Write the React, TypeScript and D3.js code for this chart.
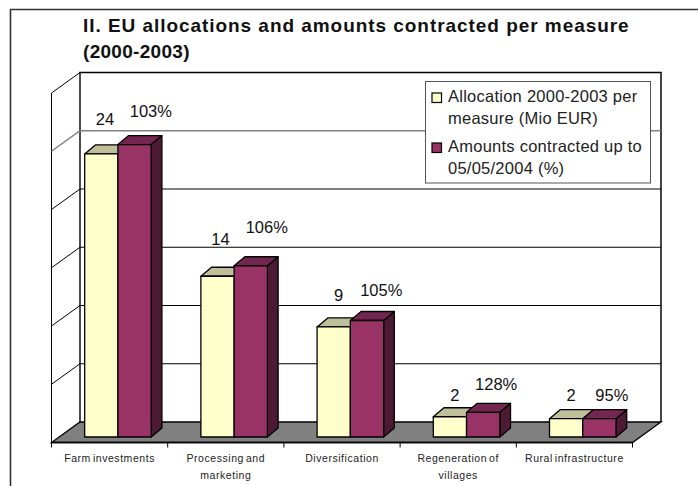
import React from 'react';
import { scaleBand, scaleLinear, format, range } from 'd3';

const categories = ['Farm investments', 'Processing and marketing', 'Diversification', 'Regeneration of villages', 'Rural infrastructure'];
const categoryLines = [['Farm investments'], ['Processing and', 'marketing'], ['Diversification'], ['Regeneration of', 'villages'], ['Rural infrastructure']];
const allocation = [24.3, 13.8, 9.45, 1.74, 1.57];
const contracted = [25.1, 14.7, 10.0, 2.12, 1.57];
const contractedPct = [103, 106, 105, 128, 95];
const yTicks = [0, 5, 10, 15, 20, 25, 30];

// labels were dragged by hand in the original, so they sit off the bars by uneven amounts
const allocLift = [29, 31, 25.7, 15.4, 17.4];
const allocShift = [3.7, 3, 5, 5, 5];
const contractedLift = [27.7, 32.7, 24.4, 22.6, 18];
const contractedShift = [16.3, 16, 14.3, 13, 12.4];

const FONT = '"Liberation Sans", Arial, sans-serif';
const wallX = 80, wallRight = 661, wallTop = 72.5, wallBottom = 422;
const floorDx = 28.5, floorDy = 20.5;
const depthX = 10.7, depthY = 9;
const frontDrop = 15; // bar fronts stand this far below the back wall's base
const frontShift = 8.35 - floorDx; // and this far right of the front floor edge

const yBack = scaleLinear().domain([0, 30]).range([wallBottom, wallTop]);
const yBar = (v: number) => yBack(v) + frontDrop;
const x0 = scaleBand<string>().domain(categories)
  .range([wallX + frontShift, wallRight + frontShift])
  .paddingInner(0.4275).paddingOuter(0.2137);
const x1 = scaleBand<string>().domain(['allocation', 'contracted']).range([0, x0.bandwidth()]);
const tickX = scaleLinear().domain([0, categories.length]).range([wallX - floorDx, wallRight - floorDx]);

function Bar({ x, w, top, bottom, front, topFace, side }: any) {
  return (
    <g stroke="#000" strokeWidth={1.3} strokeLinejoin="round">
      <polygon fill={side} points={`${x + w},${top} ${x + w + depthX},${top - depthY} ${x + w + depthX},${bottom - depthY} ${x + w},${bottom}`} />
      <polygon fill={topFace} points={`${x},${top} ${x + depthX},${top - depthY} ${x + w + depthX},${top - depthY} ${x + w},${top}`} />
      <rect x={x} y={top} width={w} height={bottom - top} fill={front} />
    </g>
  );
}

const App: React.FC = () => {
  const base = yBar(0);
  return (
    <svg width={698} height={486} style={{ position: 'absolute', left: 0, top: 0, fontFamily: FONT }}>
      <rect width={698} height={486} fill="#fff" />
      <path d="M10.5,486 V9.5 H698" fill="none" stroke="#333" strokeWidth={1.6} />

      <g fontWeight="bold" fontSize={19} fill="#111">
        <text x={83} y={32} letterSpacing={0.95}>II. EU allocations and amounts contracted per measure</text>
        <text x={83} y={57.5} letterSpacing={0.3}>(2000-2003)</text>
      </g>

      {/* walls */}
      <path d={`M${wallX},${wallBottom} V${wallTop} H${wallRight} V${wallBottom}`} fill="none" stroke="#000" strokeWidth={1.4} />
      <line x1={wallRight} x2={wallRight} y1={wallTop} y2={wallBottom} stroke="#444" strokeWidth={2} />
      <line x1={wallX - floorDx} x2={wallX - floorDx} y1={yBack(30) + floorDy} y2={yBack(0) + floorDy} stroke="#000" />
      {yTicks.filter(t => t > 0).map(t => (
        <g key={t} stroke={t === 25 ? '#808080' : '#000'} fill="none">
          <path d={`M${wallX - floorDx},${yBack(t) + floorDy} L${wallX},${yBack(t)} H${wallRight}`} strokeWidth={t === 25 ? 1.5 : 1} />
        </g>
      ))}

      {/* floor */}
      <polygon
        points={`${wallX},${wallBottom} ${wallRight},${wallBottom} ${wallRight - floorDx},${wallBottom + floorDy} ${wallX - floorDx},${wallBottom + floorDy}`}
        fill="#808080" stroke="#000" strokeWidth={1.3}
      />
      <line x1={wallX - floorDx} x2={wallRight - floorDx} y1={wallBottom + floorDy} y2={wallBottom + floorDy} stroke="#000" strokeWidth={1.6} />
      {range(categories.length + 1).map(i => (
        <line key={i} x1={tickX(i)} x2={tickX(i)} y1={wallBottom + floorDy} y2={wallBottom + floorDy + 5} stroke="#000" />
      ))}

      {/* bars */}
      {categories.map((c, i) => {
        const ax = x0(c)! + x1('allocation')!;
        const bx = x0(c)! + x1('contracted')!;
        const w = x1.bandwidth();
        return (
          <g key={c}>
            <Bar x={ax} w={w} top={yBar(allocation[i])} bottom={base} front="#FFFFCC" topFace="#BFBF99" side="#BFBF99" />
            <Bar x={bx} w={w} top={yBar(contracted[i])} bottom={base} front="#993366" topFace="#732650" side="#4D1A33" />
          </g>
        );
      })}

      {/* data labels */}
      <g fontSize={16.5} fill="#111" textAnchor="middle">
        {categories.map((c, i) => (
          <g key={c}>
            <text x={x0(c)! + x1('allocation')! + x1.bandwidth() / 2 + allocShift[i]} y={yBar(allocation[i]) - allocLift[i]}>
              {format('.0f')(allocation[i])}
            </text>
            <text x={x0(c)! + x1('contracted')! + x1.bandwidth() / 2 + contractedShift[i]} y={yBar(contracted[i]) - contractedLift[i]}>
              {contractedPct[i]}%
            </text>
          </g>
        ))}
      </g>

      {/* category labels */}
      <g fontSize={10.5} fill="#222" textAnchor="middle" letterSpacing={0.55} wordSpacing={-1.5}>
        {categoryLines.map((lines, i) => lines.map((l, j) => (
          <text key={l} x={(tickX(i) + tickX(i + 1)) / 2} y={462 + j * 16.7}>{l}</text>
        )))}
      </g>

      {/* legend */}
      <rect x={425.5} y={81.5} width={225} height={101.5} fill="#fff" stroke="#555" strokeWidth={1} />
      <rect x={432} y={93} width={9.5} height={9.5} fill="#FFFFCC" stroke="#000" strokeWidth={1.2} />
      <rect x={432} y={143} width={9.5} height={9.5} fill="#993366" stroke="#000" strokeWidth={1.2} />
      <g fontSize={16.5} fill="#222" letterSpacing={0.25}>
        <text x={448} y={102}>Allocation 2000-2003 per</text>
        <text x={448} y={123.5}>measure (Mio EUR)</text>
        <text x={448} y={152}>Amounts contracted up to</text>
        <text x={448} y={174}>05/05/2004 (%)</text>
      </g>
    </svg>
  );
};

export default App;
